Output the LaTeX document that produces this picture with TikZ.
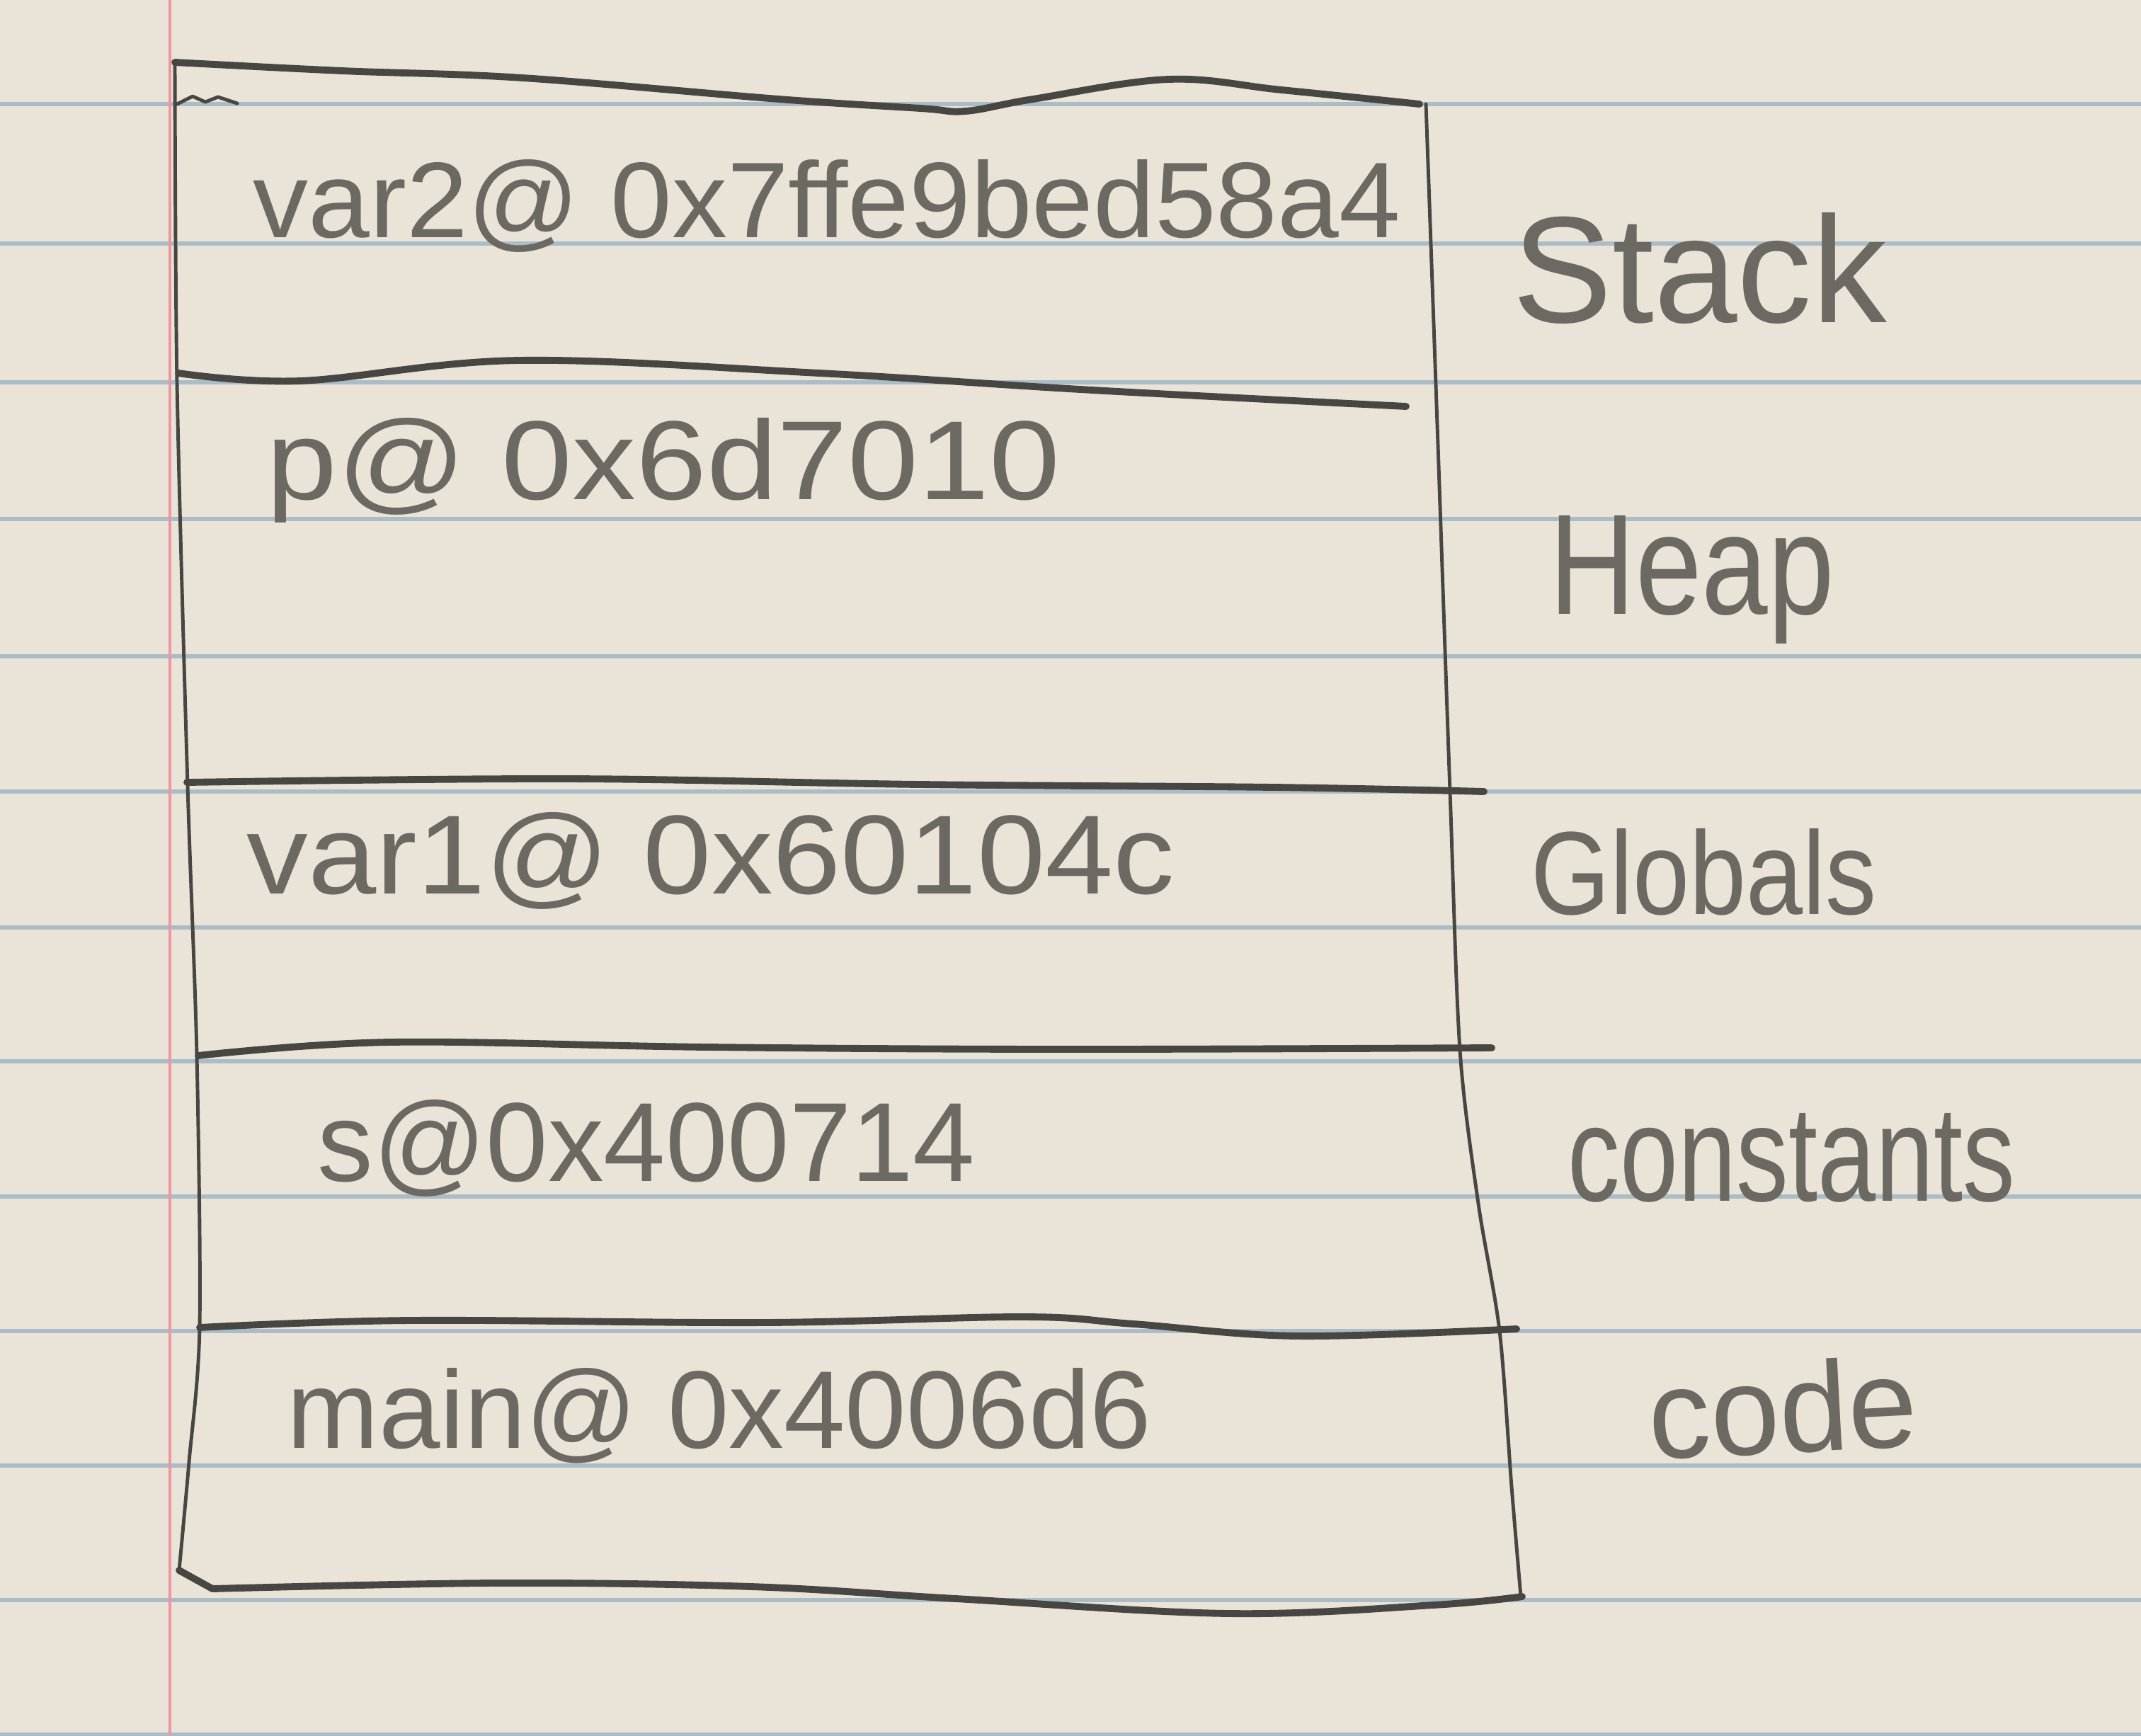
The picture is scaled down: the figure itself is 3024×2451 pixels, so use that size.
\documentclass[tikz,border=0pt]{standalone}
\usepackage{fontspec}
\usepackage{graphicx}
\newfontfamily\hand{Liberation Sans}
\definecolor{paper}{RGB}{234,228,216}
\definecolor{rulecol}{RGB}{170,188,198}
\definecolor{margincol}{RGB}{236,150,158}
\definecolor{pencil}{RGB}{72,70,66}
\definecolor{penciltext}{RGB}{108,104,98}
\begin{document}
\begin{tikzpicture}[x=0.01cm,y=-0.01cm,
  wall/.style={draw=pencil, line width=1.4pt, line cap=round, line join=round},
  cut/.style={draw=pencil, line width=2.8pt, line cap=round, line join=round},
  ruled/.style={draw=rulecol, line width=1.6pt},
  addr/.style={anchor=base west, inner sep=0pt, text=penciltext, font=\hand},
  seg/.style={anchor=base west, inner sep=0pt, text=penciltext, font=\hand}]
% paper
\fill[paper] (0,0) rectangle (3024,2451);
\useasboundingbox (0,0) rectangle (3024,2451);
\foreach \yy in {147,344,540,733,927,1118,1310,1499,1690,1880,2070,2260,2450}
  \draw[ruled] (0,\yy) -- (3024,\yy);
\draw[draw=margincol, line width=1.2pt] (240,0) -- (240,2451);
% box sides
\draw[wall] plot[smooth, tension=0.5] coordinates {(247,88) (250,540) (265,1110) (278,1490) (282,1874) (267,2065) (253,2218)};
\draw[wall] plot[smooth, tension=0.5] coordinates {(2014,147) (2030,600) (2048,1118) (2062,1483) (2088,1700) (2118,1880) (2135,2100) (2148,2255)};
% top and bottom edges
\draw[cut] plot[smooth, tension=0.6] coordinates {(247,88) (483,100) (738,110) (1100,140) (1300,153) (1364,157) (1459,140) (1651,112) (1810,127) (2005,147)};
\draw[wall] (250,147) -- (272,136) -- (290,144) -- (308,137) -- (335,146);
\draw[cut] (253,2218) -- (300,2244);
\draw[cut] plot[smooth, tension=0.6] coordinates {(300,2244) (700,2236) (1061,2241) (1350,2258) (1736,2279) (2025,2267) (2150,2255)};
% dividers
\draw[cut] plot[smooth, tension=0.6] coordinates {(252,527) (424,538) (733,509) (1157,527) (1543,551) (1986,574)};
\draw[cut] plot[smooth, tension=0.6] coordinates {(264,1105) (800,1100) (1300,1108) (1800,1112) (2096,1118)};
\draw[cut] plot[smooth, tension=0.6] coordinates {(280,1491) (550,1472) (1000,1479) (1500,1482) (2107,1480)};
\draw[cut] plot[smooth, tension=0.6] coordinates {(282,1875) (579,1865) (1080,1868) (1446,1860) (1601,1870) (1832,1887) (2142,1877)};
% contents
\node[addr] (var2) at (357,335) {\resizebox{16.19cm}{1.10cm}{var2@ 0x7ffe9bed58a4}};
\node[addr] (p) at (376,705) {\resizebox{11.2cm}{1.15cm}{p@ 0x6d7010}};
\node[addr] (var1) at (348,1262) {\resizebox{13.1cm}{1.15cm}{var1@ 0x60104c}};
\node[addr] (s) at (448,1668) {\resizebox{9.28cm}{1.15cm}{s@0x400714}};
\node[addr] (main) at (405,2045) {\resizebox{12.2cm}{1.13cm}{main@ 0x4006d6}};
% segment labels
\node[seg] (stack) at (2136,455) {\resizebox{5.28cm}{1.55cm}{Stack}};
\node[seg] (heap) at (2188,867) {\resizebox{4.02cm}{1.39cm}{Heap}};
\node[seg] (globals) at (2162,1291) {\resizebox{4.88cm}{1.21cm}{Globals}};
\node[seg] (constants) at (2214,1696) {\resizebox{6.31cm}{1.24cm}{constants}};
\node[seg, rotate=3] (code) at (2331,2062) {\resizebox{3.79cm}{1.3cm}{code}};
\end{tikzpicture}
\end{document}
